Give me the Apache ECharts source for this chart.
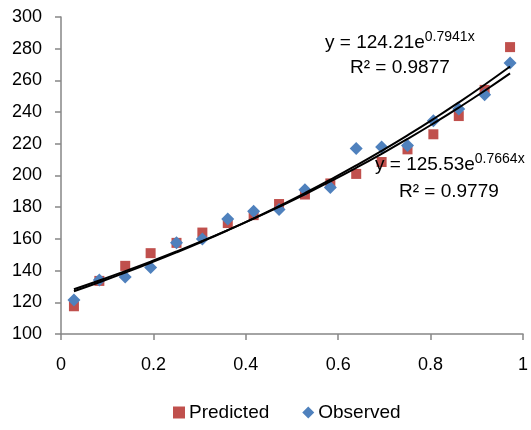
<!DOCTYPE html>
<html><head><meta charset="utf-8">
<script src="https://cdn.jsdelivr.net/npm/echarts@6/dist/echarts.min.js"></script>
<style>html,body{margin:0;padding:0;background:#fff}#c{width:531px;height:430px}</style>
</head><body><div id="c"></div>
<script>
var xValues = [0.028,0.083,0.139,0.194,0.25,0.306,0.361,0.417,0.472,0.528,0.583,0.639,0.694,0.75,0.806,0.861,0.917,0.972];
var predicted = [117.5,133.5,143,151,157.5,164,170,175,182,188,195,201,208.5,216.5,226,237.5,254,281];
var observed = [121.5,134,136,142,157.5,160,172.5,177.5,178.5,191,192.5,217,218,219,234.5,242,251,271];
var yTicks = [100,120,140,160,180,200,220,240,260,280,300];
var xTicks = [0,0.2,0.4,0.6,0.8,1];
var fitA = {a:124.21, b:0.7941, r2:'0.9877'};
var fitB = {a:125.53, b:0.7664, r2:'0.9779'};

function trend(f){ return xValues.map(function(x){ return [x, f.a*Math.exp(f.b*x)]; }); }
function pairs(ys){ return xValues.map(function(x,i){ return [x, ys[i]]; }); }

var FONT = 'Liberation Sans';
var chart = echarts.init(document.getElementById('c'), null, {renderer:'canvas'});
var axisGray = '#868686';
var eqRich = {
  m:{fontSize:19, fontFamily:FONT, fill:'#000', lineHeight:22, verticalAlign:'bottom'},
  s:{fontSize:14, fontFamily:FONT, fill:'#000', lineHeight:14, padding:[0,0,8,0], verticalAlign:'bottom'}
};
chart.setOption({
  animation:false,
  backgroundColor:'#fff',
  textStyle:{fontFamily:FONT},
  grid:{left:61, right:5, top:17, bottom:96, containLabel:false},
  xAxis:{type:'value', min:0, max:1, interval:0.2, splitLine:{show:false},
    axisLine:{lineStyle:{color:axisGray, width:1.5}},
    axisTick:{show:true, length:6, lineStyle:{color:axisGray, width:1.5}},
    axisLabel:{color:'#000', fontSize:18, fontFamily:FONT, margin:22,
      formatter:function(v){ return String(Math.round(v*10)/10); }}},
  yAxis:{type:'value', min:100, max:300, interval:20, splitLine:{show:false},
    axisLine:{show:true, lineStyle:{color:axisGray, width:1.5}},
    axisTick:{show:true, length:6, lineStyle:{color:axisGray, width:1.5}},
    axisLabel:{color:'#000', fontSize:18, fontFamily:FONT, margin:19}},
  legend:{bottom:3, left:168, itemGap:33, itemWidth:12, itemHeight:12,
    textStyle:{fontSize:19, fontFamily:FONT, color:'#000', padding:[0,0,0,-1]},
    data:[{name:'Predicted', icon:'rect'},{name:'Observed', icon:'diamond'}]},
  series:[
    {name:'Predicted', type:'scatter', symbol:'rect', symbolSize:10, data:pairs(predicted),
      itemStyle:{color:'#C0504D', opacity:1}, z:2},
    {name:'Observed', type:'scatter', symbol:'diamond', symbolSize:13, data:pairs(observed),
      itemStyle:{color:'#4F81BD', opacity:1}, z:3},
    {name:'trendA', type:'line', data:trend(fitA), smooth:true, showSymbol:false, symbol:'none',
      lineStyle:{color:'#000', width:2}, z:4, silent:true},
    {name:'trendB', type:'line', data:trend(fitB), smooth:true, showSymbol:false, symbol:'none',
      lineStyle:{color:'#000', width:2}, z:4, silent:true}
  ],
  graphic:[
    {type:'text', left:325, top:30, z:10, style:{
      text:'{m|y = '+fitA.a.toFixed(2)+'e}{s|'+fitA.b.toFixed(4)+'x}', rich:eqRich}},
    {type:'text', left:350, top:58, z:10, style:{text:'R² = '+fitA.r2, fontSize:19, fontFamily:FONT, fill:'#000'}},
    {type:'text', left:375, top:152, z:10, style:{
      text:'{m|y = '+fitB.a.toFixed(2)+'e}{s|'+fitB.b.toFixed(4)+'x}', rich:eqRich}},
    {type:'text', left:399, top:182, z:10, style:{text:'R² = '+fitB.r2, fontSize:19, fontFamily:FONT, fill:'#000'}}
  ]
});
</script></body></html>
